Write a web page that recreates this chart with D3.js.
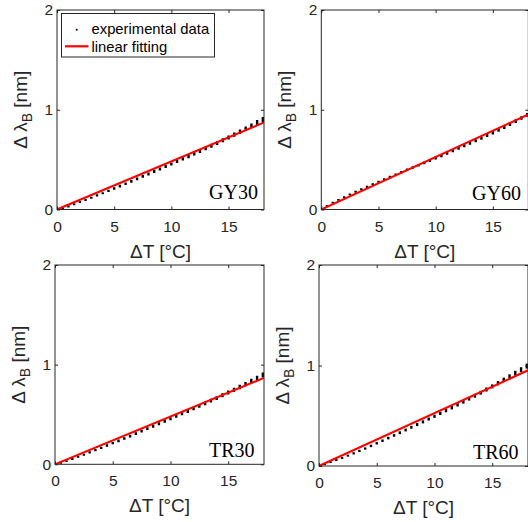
<!DOCTYPE html>
<html><head><meta charset="utf-8">
<script src="https://cdn.jsdelivr.net/npm/d3@7"></script>
<style>body{margin:0;background:#fff}svg{display:block}</style>
</head><body><svg id="c" width="528" height="522"></svg>
<script>
// ---- data ----
const tempSteps = [0,0.5,1,1.5,2,2.5,3,3.5,4,4.5,5,5.5,6,6.5,7,7.5,8,8.5,9,9.5,10,10.5,11,11.5,12,12.5,13,13.5,14,14.5,15,15.5,16,16.5,17,17.5,18];
const xTicks = [0,5,10,15];
const yTicks = [0,1,2];
const xMax = 18.1;
const yMax = 2;
const sampleNames = ["GY30","GY60","TR30","TR60"];
const fitSlopes = [0.0482,0.0526,0.0479,0.0526];
const gy30 = [0.005,0.012,0.030,0.052,0.074,0.096,0.118,0.141,0.163,0.187,0.210,0.234,0.258,0.282,0.306,0.332,0.356,0.381,0.406,0.431,0.456,0.481,0.507,0.532,0.558,0.585,0.612,0.639,0.666,0.694,0.722,0.751,0.780,0.810,0.840,0.872,0.903];
const gy60 = [0.003,0.036,0.069,0.097,0.124,0.151,0.177,0.202,0.227,0.253,0.278,0.302,0.327,0.350,0.374,0.398,0.421,0.443,0.467,0.491,0.515,0.538,0.564,0.588,0.613,0.639,0.664,0.689,0.715,0.742,0.769,0.796,0.825,0.855,0.886,0.918,0.949];
const tr30 = [0.004,0.014,0.032,0.053,0.075,0.097,0.119,0.142,0.165,0.188,0.212,0.235,0.259,0.283,0.308,0.332,0.357,0.382,0.407,0.432,0.457,0.482,0.508,0.533,0.559,0.585,0.611,0.638,0.665,0.692,0.720,0.747,0.776,0.805,0.835,0.865,0.896];
const tr60 = [0.003,0.018,0.038,0.059,0.080,0.103,0.126,0.150,0.174,0.200,0.226,0.251,0.278,0.304,0.331,0.358,0.385,0.412,0.439,0.467,0.495,0.523,0.552,0.580,0.609,0.639,0.669,0.699,0.729,0.761,0.792,0.824,0.857,0.890,0.924,0.959,0.994];
// half-height of each vertical cluster of readings (nm)
const spreadA = [0.008,0.009,0.009,0.010,0.010,0.010,0.011,0.011,0.011,0.012,0.012,0.013,0.013,0.013,0.014,0.014,0.014,0.015,0.015,0.015,0.016,0.016,0.017,0.017,0.017,0.018,0.018,0.019,0.019,0.020,0.020,0.021,0.022,0.022,0.023,0.024,0.025];
const spreadB = [0.008,0.009,0.009,0.009,0.010,0.010,0.010,0.010,0.011,0.011,0.011,0.012,0.012,0.012,0.012,0.013,0.013,0.013,0.014,0.014,0.014,0.014,0.015,0.015,0.015,0.015,0.016,0.016,0.016,0.016,0.017,0.017,0.017,0.018,0.018,0.018,0.019];
const legendLabels = ["experimental data","linear fitting"];

// ---- layout ----
const panels = [
  {name: sampleNames[0], slope: fitSlopes[0], vals: gy30, spread: spreadA, l: 57,  t: 10,  w: 207, h: 199.5, lx: 258, ly: -10.5, legend: true},
  {name: sampleNames[1], slope: fitSlopes[1], vals: gy60, spread: spreadB, l: 321.3, t: 10, w: 207, h: 199.5, lx: 521, ly: -9.5},
  {name: sampleNames[2], slope: fitSlopes[2], vals: tr30, spread: spreadA, l: 55,  t: 265, w: 209, h: 199.3, lx: 254.5, ly: -7},
  {name: sampleNames[3], slope: fitSlopes[3], vals: tr60, spread: spreadA, l: 319, t: 265, w: 209, h: 201, lx: 518.5, ly: -6.7}
];
const svg = d3.select("#c");
svg.append("rect").attr("width",528).attr("height",522).attr("fill","#fff");
const sans = "'Liberation Sans', Arial, sans-serif";
const ink = "#262626";

panels.forEach((p, i) => {
  const x = d3.scaleLinear().domain([0, xMax]).range([0, p.w]);
  const y = d3.scaleLinear().domain([0, yMax]).range([p.h, 0]);
  const g = svg.append("g").attr("transform", `translate(${p.l},${p.t})`);
  const cid = "clip" + i;
  g.append("clipPath").attr("id", cid).append("rect").attr("width", p.w).attr("height", p.h);
  const plot = g.append("g").attr("clip-path", `url(#${cid})`);

  // experimental data: vertical clusters of points
  plot.selectAll("line.d").data(tempSteps).join("line").attr("class","d")
    .attr("x1", (d) => x(d)).attr("x2", (d) => x(d))
    .attr("y1", (d, j) => y(p.vals[j] - p.spread[j]))
    .attr("y2", (d, j) => y(p.vals[j] + p.spread[j]))
    .attr("stroke", "#000").attr("stroke-width", 2.4);

  // linear fitting
  plot.append("line")
    .attr("x1", x(0)).attr("y1", y(0))
    .attr("x2", x(xMax)).attr("y2", y(p.slope * xMax))
    .attr("stroke", "#ff0000").attr("stroke-width", 2.1);

  // axes (MATLAB style: inward ticks on all sides)
  const ax = (sel) => { sel.selectAll(".domain").remove(); sel.selectAll("line").attr("stroke", ink); sel.selectAll("text").attr("fill", ink).style("font-family", sans).style("font-size", "15.5px"); };
  g.append("g").attr("transform", `translate(0,${p.h})`)
    .call(d3.axisBottom(x).tickValues(xTicks).tickSizeInner(-3).tickSizeOuter(0).tickPadding(11).tickFormat(d3.format("d"))).call(ax);
  g.append("g").call(d3.axisLeft(y).tickValues(yTicks).tickSizeInner(-3).tickSizeOuter(0).tickPadding(4).tickFormat(d3.format("d"))).call(ax);
  g.append("g").call(d3.axisTop(x).tickValues(xTicks).tickSizeInner(-3).tickSizeOuter(0).tickFormat("")).call(ax);
  g.append("g").attr("transform", `translate(${p.w},0)`)
    .call(d3.axisRight(y).tickValues(yTicks).tickSizeInner(-3).tickSizeOuter(0).tickFormat("")).call(ax);
  g.append("rect").attr("width", p.w).attr("height", p.h).attr("fill", "none").attr("stroke", ink).attr("stroke-width", 1);

  // axis labels
  g.append("text").attr("x", p.w / 2).attr("y", p.h + 48).attr("text-anchor", "middle")
    .style("font-family", sans).style("font-size", "19px").attr("fill", ink).text("ΔT [°C]");
  const yl = g.append("text").attr("transform", `translate(-30,${p.h / 2}) rotate(-90)`).attr("text-anchor", "middle")
    .style("font-family", sans).style("font-size", "19px").attr("fill", ink);
  yl.append("tspan").text("Δ λ");
  yl.append("tspan").attr("dy", 5).style("font-size", "14px").text("B");
  yl.append("tspan").attr("dy", -5).text(" [nm]");

  // sample name
  g.append("text").attr("x", p.lx - p.l).attr("y", p.h + p.ly).attr("text-anchor", "end")
    .style("font-family", "'Liberation Serif', 'Times New Roman', serif").style("font-size", "20px").attr("fill", "#000").text(p.name);

  if (p.legend) {
    const lg = svg.append("g");
    lg.append("rect").attr("x", 61.5).attr("y", 13.5).attr("width", 153).attr("height", 43.5)
      .attr("fill", "#fff").attr("stroke", ink).attr("stroke-width", 1);
    lg.append("rect").attr("x", 75.8).attr("y", 28.8).attr("width", 1.8).attr("height", 1.8).attr("fill", "#000");
    lg.append("line").attr("x1", 65).attr("x2", 88.5).attr("y1", 46.3).attr("y2", 46.3).attr("stroke", "#ff0000").attr("stroke-width", 2.2);
    lg.selectAll("text").data(legendLabels).join("text")
      .attr("x", 91.5).attr("y", (d, k) => 34 + k * 17.5)
      .style("font-family", sans).style("font-size", "14.8px").attr("fill", "#000").text((d) => d);
  }
});
</script></body></html>
